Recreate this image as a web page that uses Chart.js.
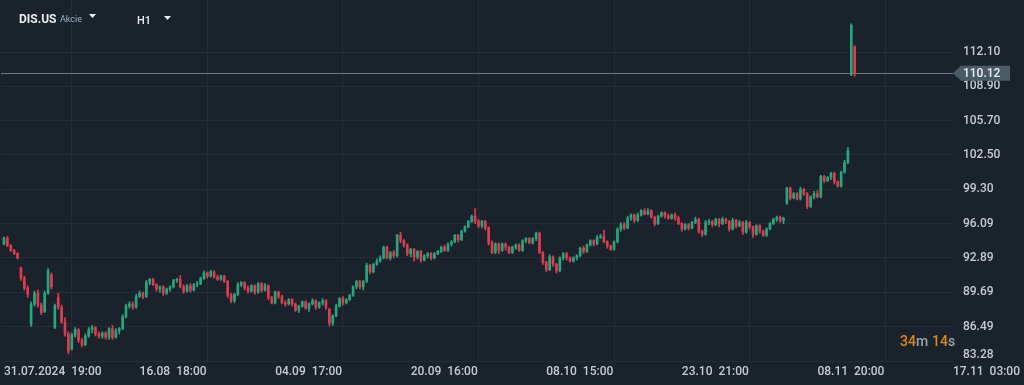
<!DOCTYPE html>
<html>
<head>
<meta charset="utf-8">
<script src="https://cdn.jsdelivr.net/npm/chart.js@4.4.1/dist/chart.umd.min.js"></script>
<style>
  html, body { margin: 0; padding: 0; background: #1a232b; }
  #wrap { width: 1024px; height: 385px; position: relative; }
</style>
</head>
<body>
<div id="wrap"><canvas id="chart"></canvas></div>
<script>
// DIS.US, H1 candles, 31.07.2024 .. 14.11.2024
const open = [
  94.20, 94.75, 94.05, 93.60, 93.30, 92.00, 91.00, 90.10, 86.70, 88.60,
  89.60, 88.50, 87.90, 89.60, 91.30, 86.40, 89.20, 88.30, 86.90, 85.80,
  84.40, 85.70, 86.20, 85.20, 84.80, 85.60, 86.20, 86.40, 85.80, 85.60,
  85.90, 85.50, 86.30, 85.50, 86.10, 86.30, 87.40, 88.40, 88.60, 88.30,
  89.30, 89.60, 89.30, 90.60, 90.90, 90.40, 90.00, 90.20, 89.60, 90.00,
  90.20, 90.80, 90.90, 90.20, 89.80, 90.30, 89.90, 90.40, 90.50, 91.00,
  91.50, 91.20, 91.60, 91.10, 90.90, 91.20, 90.70, 89.40, 88.90, 89.50,
  90.40, 90.60, 90.10, 89.80, 90.30, 89.70, 90.50, 89.90, 90.30, 89.20,
  88.70, 89.70, 89.30, 88.70, 88.60, 89.00, 88.60, 88.00, 88.40, 88.80,
  88.20, 88.60, 88.90, 88.30, 88.70, 88.90, 88.10, 86.80, 87.50, 88.40,
  89.10, 88.70, 89.00, 89.40, 90.20, 90.70, 90.20, 90.70, 92.20, 91.60,
  92.30, 92.60, 92.90, 93.90, 92.90, 93.40, 93.10, 95.00, 94.50, 94.10,
  93.30, 93.70, 93.00, 93.50, 92.70, 93.10, 93.30, 92.90, 93.30, 93.50,
  93.90, 93.60, 94.20, 94.40, 95.00, 94.60, 95.40, 95.80, 96.30, 96.80,
  96.30, 95.90, 96.30, 95.70, 94.30, 93.40, 94.20, 93.60, 94.20, 93.90,
  93.40, 93.90, 94.10, 93.60, 94.50, 94.70, 94.30, 94.70, 95.20, 93.40,
  92.50, 91.80, 93.00, 92.30, 91.70, 92.90, 93.30, 92.90, 92.60, 92.90,
  93.10, 93.80, 93.50, 94.10, 94.50, 94.20, 94.80, 94.90, 94.40, 94.00,
  93.70, 94.40, 95.60, 96.00, 95.70, 96.60, 96.90, 96.40, 96.90, 97.30,
  97.00, 97.30, 96.70, 96.10, 96.80, 97.10, 96.80, 96.60, 96.90, 96.60,
  96.10, 95.60, 96.00, 95.70, 96.20, 96.50, 95.40, 95.10, 96.20, 96.30,
  96.00, 96.50, 96.10, 96.50, 96.30, 95.60, 96.40, 95.90, 96.20, 95.30,
  96.20, 95.80, 95.10, 95.90, 95.40, 95.00, 95.60, 96.10, 96.50, 96.70,
  96.40, 98.00, 99.40, 98.50, 98.90, 98.40, 99.30, 98.90, 97.70, 98.60,
  98.90, 98.60, 100.50, 100.10, 100.40, 100.80, 100.00, 99.60, 100.90, 101.80,
  110.00, 112.60
];
const high = [
  94.85, 94.90, 94.15, 93.70, 93.40, 92.05, 91.20, 90.30, 88.80, 89.80,
  89.90, 88.70, 89.80, 91.90, 91.50, 88.60, 89.60, 88.50, 87.30, 86.00,
  85.90, 86.40, 86.30, 85.40, 85.80, 86.40, 86.60, 86.50, 86.00, 86.00,
  86.00, 86.40, 86.60, 86.30, 86.40, 87.60, 88.60, 88.80, 88.80, 89.50,
  89.80, 89.70, 90.80, 91.00, 91.00, 90.50, 90.30, 90.30, 90.10, 90.30,
  90.90, 91.00, 91.25, 90.40, 90.40, 90.50, 90.50, 90.70, 91.10, 91.70,
  91.60, 91.75, 91.70, 91.30, 91.30, 91.30, 90.80, 89.60, 89.60, 90.60,
  90.70, 90.70, 90.30, 90.40, 90.40, 90.60, 90.60, 90.50, 90.40, 89.30,
  89.80, 89.80, 89.40, 88.90, 89.10, 89.10, 88.70, 88.50, 88.90, 88.90,
  88.70, 89.10, 89.00, 88.80, 89.10, 89.00, 88.20, 87.60, 88.60, 89.20,
  89.30, 89.10, 89.50, 90.30, 90.80, 90.80, 90.80, 92.40, 92.30, 92.40,
  92.80, 93.10, 94.00, 94.00, 93.50, 93.60, 95.10, 95.30, 94.60, 94.20,
  93.80, 93.80, 93.60, 93.60, 93.20, 93.40, 93.40, 93.40, 93.60, 94.00,
  94.10, 94.30, 94.50, 95.10, 95.10, 95.50, 95.90, 96.40, 96.90, 97.50,
  96.50, 96.40, 96.40, 95.80, 94.50, 94.30, 94.30, 94.30, 94.30, 94.00,
  94.00, 94.20, 94.20, 94.60, 94.80, 94.80, 94.80, 95.30, 95.30, 93.50,
  92.60, 93.20, 93.10, 92.40, 93.00, 93.40, 93.40, 93.00, 93.00, 93.20,
  93.90, 94.00, 94.20, 94.60, 94.60, 95.00, 95.10, 95.50, 94.50, 94.10,
  94.50, 95.70, 96.20, 96.20, 96.80, 97.00, 97.00, 97.10, 97.40, 97.50,
  97.50, 97.40, 96.80, 96.90, 97.20, 97.20, 97.00, 97.00, 97.10, 96.80,
  96.20, 96.10, 96.10, 96.30, 96.70, 96.60, 95.50, 96.40, 96.50, 96.40,
  96.60, 96.60, 96.70, 96.60, 96.40, 96.60, 96.50, 96.40, 96.30, 96.40,
  96.30, 95.90, 96.00, 96.00, 95.50, 95.70, 96.20, 96.60, 96.80, 96.80,
  96.70, 99.50, 99.50, 99.00, 99.00, 99.50, 99.40, 99.00, 98.70, 99.10,
  99.20, 100.60, 100.60, 100.50, 100.90, 100.90, 100.10, 101.00, 102.00, 103.20,
  114.75, 112.70
];
const low = [
  94.10, 93.95, 93.50, 93.20, 92.80, 90.80, 89.90, 89.20, 86.50, 88.40,
  88.30, 87.60, 87.80, 89.50, 90.00, 86.30, 88.10, 86.80, 85.60, 83.94,
  84.30, 85.50, 85.00, 84.60, 84.70, 85.50, 85.90, 85.60, 85.40, 85.40,
  85.30, 85.30, 85.30, 85.40, 85.80, 86.20, 87.30, 88.20, 88.10, 88.20,
  89.20, 89.10, 89.20, 90.40, 90.30, 89.80, 89.70, 89.40, 89.50, 89.80,
  90.10, 90.60, 90.10, 89.60, 89.70, 89.70, 89.80, 90.20, 90.40, 90.90,
  91.00, 91.10, 91.00, 90.80, 90.80, 90.60, 89.20, 88.70, 88.70, 89.40,
  90.20, 89.90, 89.60, 89.70, 89.50, 89.60, 89.70, 89.80, 89.00, 88.60,
  88.60, 89.10, 88.60, 88.40, 88.50, 88.40, 87.90, 87.80, 88.30, 88.10,
  87.90, 88.50, 88.10, 88.20, 88.50, 88.10, 86.55, 86.60, 87.40, 88.30,
  88.50, 88.60, 88.90, 89.30, 90.00, 90.00, 89.90, 90.60, 91.40, 91.50,
  92.20, 92.50, 92.80, 92.80, 92.70, 92.90, 93.00, 94.30, 93.90, 93.10,
  93.00, 92.60, 92.80, 92.50, 92.60, 92.90, 92.70, 92.80, 93.20, 93.40,
  93.50, 93.50, 94.00, 94.30, 94.40, 94.50, 95.30, 95.70, 96.20, 96.10,
  95.70, 95.70, 95.50, 94.10, 93.30, 93.30, 93.30, 93.50, 93.60, 93.30,
  93.30, 93.70, 93.50, 93.50, 94.30, 94.20, 94.20, 94.50, 93.30, 92.30,
  91.60, 91.70, 92.10, 91.50, 91.60, 92.70, 92.70, 92.50, 92.50, 92.70,
  93.00, 93.30, 93.40, 94.00, 94.00, 94.10, 94.70, 94.30, 93.80, 93.60,
  93.60, 94.30, 95.40, 95.50, 95.60, 96.40, 96.20, 96.30, 96.80, 96.90,
  96.90, 96.60, 95.90, 96.00, 96.70, 96.60, 96.50, 96.50, 96.40, 96.00,
  95.40, 95.50, 95.50, 95.60, 96.10, 95.20, 94.90, 95.00, 96.00, 95.80,
  95.90, 95.80, 96.00, 96.10, 95.40, 95.50, 95.70, 95.80, 95.10, 95.20,
  95.60, 94.80, 95.00, 95.20, 94.90, 94.90, 95.50, 96.00, 96.30, 96.20,
  96.10, 97.90, 98.30, 98.40, 98.30, 98.30, 98.70, 97.50, 97.60, 98.40,
  98.50, 98.50, 99.90, 100.00, 100.20, 99.80, 99.50, 99.50, 100.80, 101.70,
  109.90, 109.85
];
const close = [
  94.75, 94.05, 93.60, 93.30, 92.90, 91.00, 90.10, 89.50, 88.60, 89.60,
  88.50, 87.80, 89.60, 91.70, 90.20, 88.40, 88.30, 86.90, 85.80, 84.20,
  85.70, 86.20, 85.20, 84.80, 85.60, 86.20, 86.40, 85.80, 85.60, 85.90,
  85.50, 86.30, 85.50, 86.10, 86.30, 87.40, 88.40, 88.60, 88.30, 89.30,
  89.60, 89.30, 90.60, 90.90, 90.40, 90.00, 90.20, 89.60, 90.00, 90.20,
  90.80, 90.90, 90.20, 89.80, 90.30, 89.90, 90.40, 90.50, 91.00, 91.50,
  91.20, 91.60, 91.10, 90.90, 91.20, 90.70, 89.40, 88.90, 89.50, 90.40,
  90.60, 90.10, 89.80, 90.30, 89.70, 90.50, 89.90, 90.30, 89.20, 88.70,
  89.70, 89.30, 88.70, 88.60, 89.00, 88.60, 88.00, 88.40, 88.80, 88.20,
  88.60, 88.90, 88.30, 88.70, 88.90, 88.30, 86.80, 87.50, 88.40, 89.10,
  88.70, 89.00, 89.40, 90.20, 90.70, 90.20, 90.70, 92.20, 91.60, 92.30,
  92.60, 92.90, 93.90, 92.90, 93.40, 93.10, 95.00, 94.50, 94.10, 93.30,
  93.70, 93.00, 93.50, 92.70, 93.10, 93.30, 92.90, 93.30, 93.50, 93.90,
  93.60, 94.20, 94.40, 95.00, 94.60, 95.40, 95.80, 96.30, 96.80, 96.30,
  95.90, 96.30, 95.70, 94.30, 93.40, 94.20, 93.60, 94.20, 93.90, 93.40,
  93.90, 94.10, 93.60, 94.50, 94.70, 94.30, 94.70, 95.20, 93.40, 92.50,
  91.80, 93.00, 92.30, 91.70, 92.90, 93.30, 92.90, 92.60, 92.90, 93.10,
  93.80, 93.50, 94.10, 94.50, 94.20, 94.80, 94.90, 94.40, 94.00, 93.70,
  94.40, 95.60, 96.00, 95.70, 96.60, 96.90, 96.40, 96.90, 97.30, 97.00,
  97.30, 96.70, 96.10, 96.80, 97.10, 96.80, 96.60, 96.90, 96.60, 96.10,
  95.60, 96.00, 95.70, 96.20, 96.50, 95.40, 95.10, 96.20, 96.30, 96.00,
  96.50, 96.10, 96.50, 96.30, 95.60, 96.40, 95.90, 96.20, 95.30, 96.20,
  95.80, 95.10, 95.90, 95.40, 95.00, 95.60, 96.10, 96.50, 96.70, 96.40,
  96.60, 99.40, 98.50, 98.90, 98.40, 99.30, 98.90, 97.70, 98.60, 98.90,
  98.60, 100.50, 100.10, 100.40, 100.80, 100.00, 99.60, 100.90, 101.80, 102.90,
  114.60, 110.12
];

const xTickIdx = [0, 40, 80, 120, 160, 200, 240, 280];
const xTickLabels = ['31.07.2024  19:00', '16.08  18:00', '04.09  17:00', '20.09  16:00',
                     '08.10  15:00', '23.10  21:00', '08.11  20:00', '17.11  03:00'];
const yTicks = [83.28, 86.49, 89.69, 92.89, 96.09, 99.30, 102.50, 105.70, 108.90, 112.10];
const lastPrice = 110.12;
const countdown = ['34', 'm', '14', 's'];

const UP = '#22a97d';
const DOWN = '#e23a4e';
const GRID = '#242e37';
const TEXT = '#c6ccd1';
const FONT = 'Roboto, "Noto Sans", sans-serif';

const colors = close.map((c, i) => c >= open[i] ? UP : DOWN);
const bodies = close.map((c, i) => ({ x: i, y: [open[i], c] }));
const wicks = close.map((c, i) => ({ x: i, y: [low[i], high[i]] }));

const overlay = {
  id: 'overlay',
  beforeDatasetsDraw(chart) {
    const { ctx, chartArea } = chart;
    const y = Math.round(chart.scales.y.getPixelForValue(lastPrice)) + 0.5;
    ctx.save();
    ctx.strokeStyle = '#6a7883';
    ctx.lineWidth = 1;
    ctx.beginPath();
    ctx.moveTo(chartArea.left, y);
    ctx.lineTo(chartArea.right, y);
    ctx.stroke();
    ctx.restore();
  },
  afterDraw(chart) {
    const { ctx, chartArea } = chart;
    const ys = chart.scales.y;
    ctx.save();

    // price axis labels
    ctx.font = '500 12px ' + FONT;
    ctx.fillStyle = TEXT;
    ctx.textAlign = 'left';
    ctx.textBaseline = 'middle';
    yTicks.forEach(v => {
      const y = Math.min(ys.getPixelForValue(v), chartArea.bottom - 6);
      ctx.fillText(v.toFixed(2), chartArea.right + 10, y);
    });

    // last price tag
    const py = ys.getPixelForValue(lastPrice);
    const x0 = chartArea.right;
    ctx.fillStyle = '#4a5b68';
    ctx.beginPath();
    ctx.moveTo(x0, py);
    ctx.lineTo(x0 + 8, py - 7.5);
    ctx.lineTo(x0 + 57, py - 7.5);
    ctx.lineTo(x0 + 57, py + 7.5);
    ctx.lineTo(x0 + 8, py + 7.5);
    ctx.closePath();
    ctx.fill();
    ctx.fillStyle = '#eef1f3';
    ctx.fillText(lastPrice.toFixed(2), x0 + 10, py + 0.5);

    // header
    ctx.textBaseline = 'alphabetic';
    ctx.fillStyle = '#e9edf0';
    ctx.font = 'bold 12px ' + FONT;
    ctx.fillText('DIS.US', 19, 23);
    ctx.fillStyle = '#9cb4c4';
    ctx.font = '9px ' + FONT;
    ctx.fillText('Akcie', 60, 22);
    ctx.fillStyle = '#e9edf0';
    ctx.font = '500 11px ' + FONT;
    ctx.fillText('H1', 137, 24);
    [[89, 14], [164, 16]].forEach(([tx, ty]) => {
      ctx.beginPath();
      ctx.moveTo(tx, ty);
      ctx.lineTo(tx + 7, ty);
      ctx.lineTo(tx + 3.5, ty + 4);
      ctx.closePath();
      ctx.fill();
    });

    // candle countdown
    ctx.font = '500 14px ' + FONT;
    let cx = 900;
    countdown.forEach((part, i) => {
      ctx.fillStyle = i % 2 === 0 ? '#de8a14' : '#99a3ab';
      ctx.fillText(part, cx, 346);
      cx += ctx.measureText(part).width + (i === 1 ? 4 : 0);
    });

    ctx.restore();
  }
};

new Chart(document.getElementById('chart'), {
  type: 'bar',
  data: {
    datasets: [
      { data: bodies, backgroundColor: colors, barThickness: 2, minBarLength: 1 },
      { data: wicks, backgroundColor: colors, barThickness: 1 }
    ]
  },
  options: {
    responsive: true,
    maintainAspectRatio: false,
    animation: false,
    grouped: false,
    layout: { padding: 0 },
    plugins: { legend: { display: false }, tooltip: { enabled: false } },
    scales: {
      x: {
        type: 'linear',
        min: -0.88,
        max: 280,
        offset: false,
        border: { display: false },
        grid: { color: GRID, drawTicks: false },
        afterBuildTicks: s => { s.ticks = xTickIdx.map(v => ({ value: v })); },
        afterFit: s => { s.height = 24; },
        ticks: {
          autoSkip: false,
          maxRotation: 0,
          align: 'start',
          padding: 4,
          color: TEXT,
          font: { family: FONT, size: 12, weight: '500' },
          callback: v => xTickLabels[xTickIdx.indexOf(v)]
        }
      },
      y: {
        position: 'right',
        min: 83.28,
        max: 116.96,
        border: { display: false },
        grid: { color: GRID, drawTicks: false },
        afterBuildTicks: s => { s.ticks = yTicks.map(v => ({ value: v })); },
        afterFit: s => { s.width = 69; },
        ticks: { display: false }
      }
    }
  },
  plugins: [overlay]
});
</script>
</body>
</html>
